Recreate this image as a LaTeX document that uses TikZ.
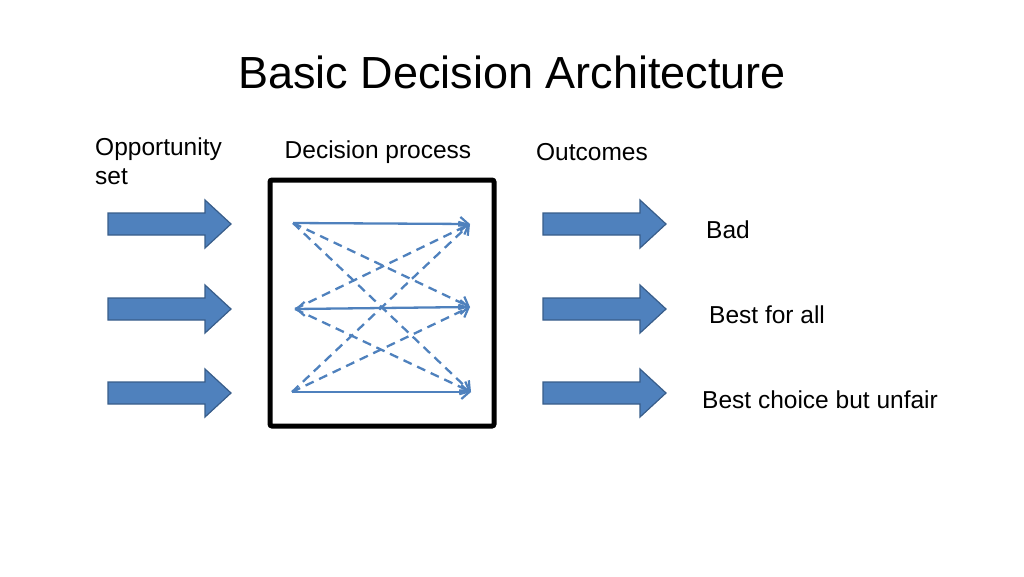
\documentclass[tikz,border=0pt]{standalone}
\usepackage{fontspec}
\setmainfont{Liberation Sans}
\usetikzlibrary{arrows.meta}
\definecolor{bfill}{HTML}{4F81BD}
\definecolor{bline}{HTML}{385D8A}
\begin{document}
\begin{tikzpicture}[x=1pt,y=-1pt,
  blk/.style={draw=bline,fill=bfill,line width=1.2pt,line join=miter},
  tip/.tip={Straight Barb[length=8pt,width=14pt,line width=2.2pt]},
  ln/.style={bfill,line width=2.3pt,-tip},
  dl/.style={ln,dash pattern=on 9pt off 6pt},
  lab/.style={font=\fontsize{24.5}{29}\selectfont,inner sep=0pt}]
\useasboundingbox (0,0) rectangle (1024,576);
\node[font=\fontsize{45}{54}\selectfont] (title) at (512,72) {Basic Decision Architecture};
\node[lab,anchor=west,align=left] (opp) at (95,161) {Opportunity\\set};
\node[lab] (dp) at (378,152) {Decision process};
\node[lab] (out) at (592,152) {Outcomes};
\foreach \y in {224,309,393}{
  \foreach \x in {108,543}{
    \draw[blk] (\x,\y-11) -- ++(97,0) -- ++(0,-13) -- (\x+123,\y) -- (\x+97,\y+24) -- ++(0,-13) -- (\x,\y+11) -- cycle;
  }
}
\node[lab,anchor=west] (bad) at (706,230) {Bad};
\node[lab,anchor=west] (best) at (709,315) {Best for all};
\node[lab,anchor=west] (unf) at (702,400) {Best choice but unfair};
\node[draw,line width=5pt,rounded corners=2pt,minimum width=224pt,minimum height=246pt] (box) at (382,303) {};
\coordinate (L1) at (293,223); \coordinate (L2) at (295,309); \coordinate (L3) at (292,392);
\coordinate (R1) at (470,224); \coordinate (R2) at (470,307); \coordinate (R3) at (471,392);
\draw[ln] (L1) -- (R1);
\draw[ln,tip-tip] (L2) -- (R2);
\draw[ln] (L3) -- (R3);
\draw[dl] (L1) -- (R2); \draw[dl] (L1) -- (R3);
\draw[dl] (L2) -- (R1); \draw[dl] (L2) -- (R3);
\draw[dl] (L3) -- (R1); \draw[dl] (L3) -- (R2);
\end{tikzpicture}
\end{document}
